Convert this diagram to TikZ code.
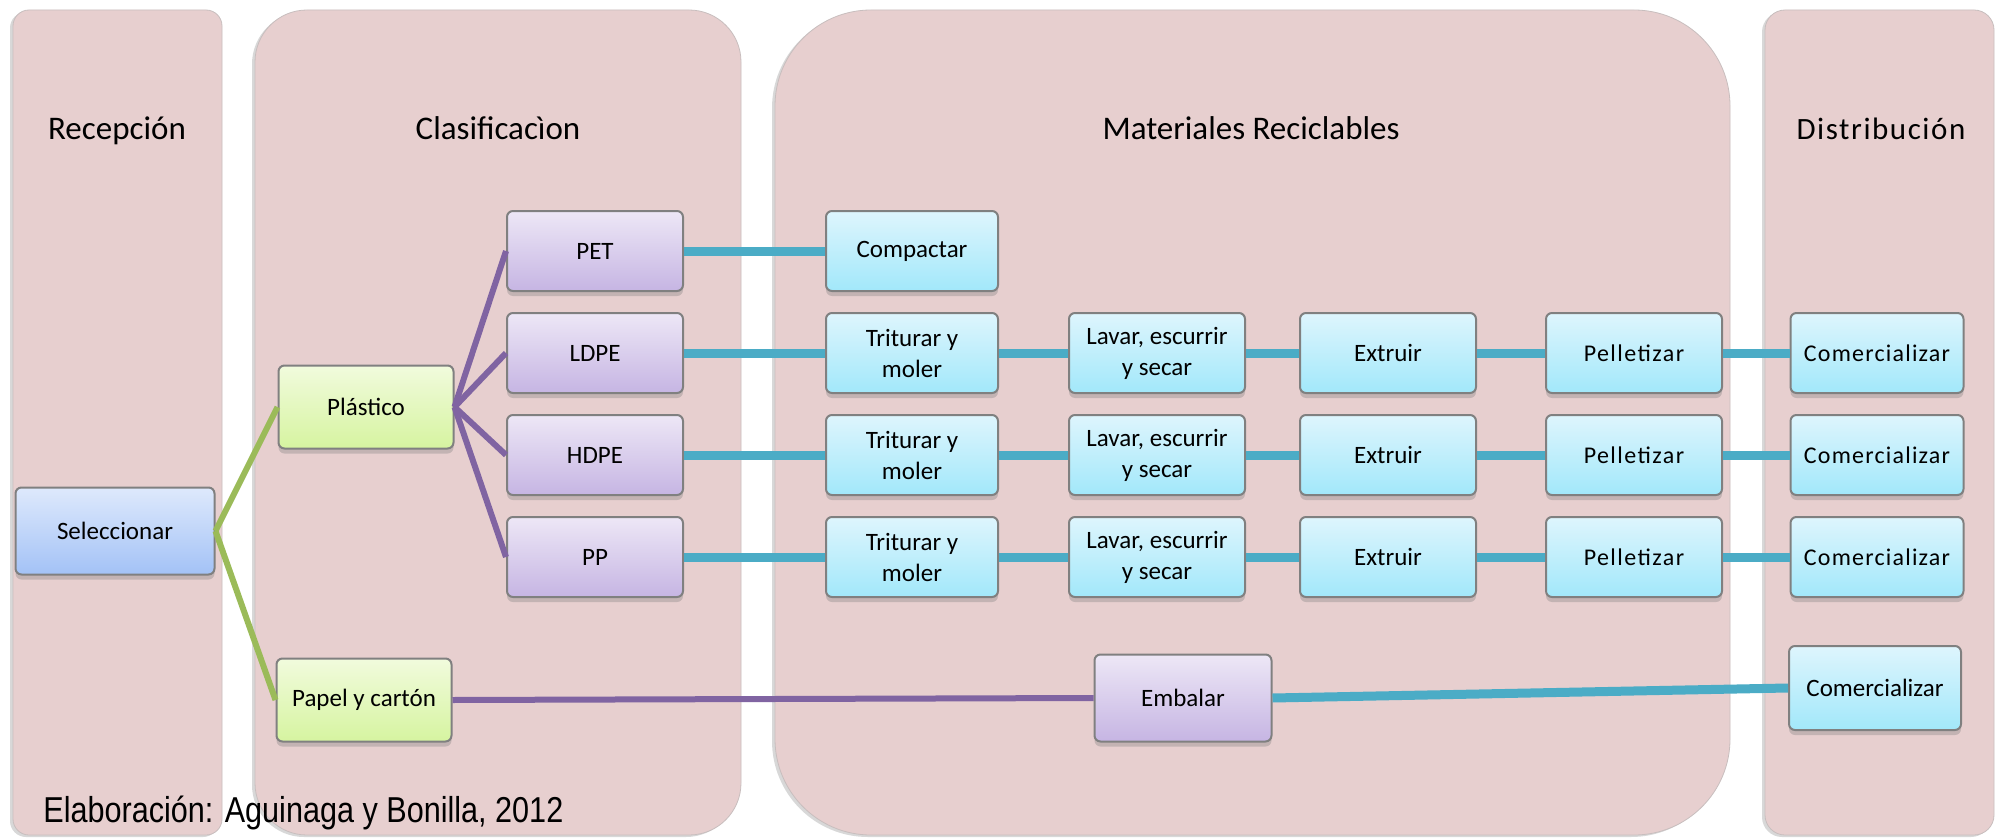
\documentclass[tikz,border=0pt]{standalone}
\usepackage{fontspec}
\setmainfont{Carlito}
\newfontfamily\arialfont{Liberation Sans}
\usetikzlibrary{shadows}
\definecolor{panelfill}{HTML}{E7CFCF}
\definecolor{panelshadow}{HTML}{C8BEBE}
\definecolor{tealline}{HTML}{4BACC6}
\definecolor{purpline}{HTML}{8064A2}
\definecolor{greenline}{HTML}{9BBB59}
\definecolor{boxborder}{HTML}{808080}
\tikzset{
  panel/.style={fill=panelfill, draw=panelshadow, line width=0.4pt,
    drop shadow={shadow xshift=-1.5pt, shadow yshift=-1pt, opacity=0.3}},
  title/.style={font=\fontsize{16.5}{19}\selectfont, anchor=base},
  box/.style={draw=boxborder, line width=1pt, rounded corners=3pt, align=center,
    font=\fontsize{12.5}{15.5}\selectfont, inner sep=1pt,
    drop shadow={shadow xshift=0pt, shadow yshift=-2.5pt, opacity=0.35}},
  bluebox/.style={box, top color={rgb,255:red,222;green,233;blue,252}, bottom color={rgb,255:red,163;green,194;blue,246}},
  greenbox/.style={box, top color={rgb,255:red,241;green,251;blue,221}, bottom color={rgb,255:red,214;green,244;blue,160}},
  purpbox/.style={box, top color={rgb,255:red,237;green,231;blue,246}, bottom color={rgb,255:red,198;green,181;blue,227}},
  cyanbox/.style={box, top color={rgb,255:red,222;green,245;blue,253}, bottom color={rgb,255:red,162;green,232;blue,250}},
  w/.style={minimum width=88pt, minimum height=40pt},
  tline/.style={draw=tealline, line width=4.5pt},
  pline/.style={draw=purpline, line width=3pt},
  gline/.style={draw=greenline, line width=3pt},
}
\begin{document}
\begin{tikzpicture}[x=0.5pt,y=-0.5pt]
\useasboundingbox (0,0) rectangle (2002,840);
\fill[white] (0,0) rectangle (2002,840);
% panels
\path[panel, rounded corners=8pt] (13,10) rectangle (222,835);
\path[panel, rounded corners=26pt] (255,10) rectangle (741,835);
\path[panel, rounded corners=48pt] (775,10) rectangle (1730,835);
\path[panel, rounded corners=10pt] (1765,10) rectangle (1994,835);
% titles
\node[title] (t1) at (117,140) {Recepción};
\node[title] (t2) at (498,140) {Clasificacìon};
\node[title] (t3) at (1251,140) {Materiales Reciclables};
\node[title, font=\fontsize{15.5}{18}\selectfont] (t4) at (1881,140) {\addfontfeature{LetterSpace=5}Distribución};
% nodes
\node[bluebox, minimum width=99.5pt, minimum height=43.5pt] (sel) at (115,531) {Seleccionar};
\node[greenbox, minimum width=87.5pt, minimum height=41.5pt] (pla) at (366,407) {Plástico};
\node[greenbox, minimum width=87.5pt, minimum height=41.5pt] (pap) at (364,700) {Papel y cartón};
\node[purpbox, w] (pet) at (595,251) {PET};
\node[purpbox, w] (ldpe) at (595,353) {LDPE};
\node[purpbox, w] (hdpe) at (595,455) {HDPE};
\node[purpbox, w] (pp) at (595,557) {PP};
\node[cyanbox, w, minimum width=86pt] (comp) at (912,251) {Compactar};
\foreach \r/\y in {a/353,b/455,c/557}{
  \node[cyanbox, w, minimum width=86pt] (tri\r) at (912,\y) {Triturar y\\moler};
  \node[cyanbox, w] (lav\r) at (1157,\y) {Lavar, escurrir\\y secar};
  \node[cyanbox, w] (ext\r) at (1388,\y) {Extruir};
  \node[cyanbox, w, font=\fontsize{12}{14}\selectfont] (pel\r) at (1634,\y) {\addfontfeature{LetterSpace=6}Pelletizar};
  \node[cyanbox, w, minimum width=86.5pt, font=\fontsize{12}{14}\selectfont] (com\r) at (1877,\y) {\addfontfeature{LetterSpace=5}Comercializar};
}
\node[purpbox, minimum width=88.5pt, minimum height=43.5pt] (emb) at (1183,698) {Embalar};
\node[cyanbox, minimum width=86pt, minimum height=42pt] (comd) at (1875,688) {Comercializar};
% connectors
\draw[gline] (sel.east) -- (pla.west);
\draw[gline] (sel.east) -- (pap.west);
\foreach \t in {pet,ldpe,hdpe,pp}{\draw[pline] (pla.east) -- (\t.west);}
\draw[tline] (pet) -- (comp);
\draw[tline] (ldpe) -- (tria);
\draw[tline] (hdpe) -- (trib);
\draw[tline] (pp) -- (tric);
\foreach \r in {a,b,c}{
  \draw[tline] (tri\r) -- (lav\r);
  \draw[tline] (lav\r) -- (ext\r);
  \draw[tline] (ext\r) -- (pel\r);
  \draw[tline] (pel\r) -- (com\r);
}
\draw[pline] (pap.east) -- (emb.west);
\draw[tline] (emb.east) -- (comd.west);
% caption
\node[anchor=base west, font=\arialfont\fontsize{18}{20}\selectfont, inner sep=0pt] (cap) at (43,822) {\scalebox{0.85}[1]{Elaboración: Aguinaga y Bonilla, 2012}};
\end{tikzpicture}
\end{document}
